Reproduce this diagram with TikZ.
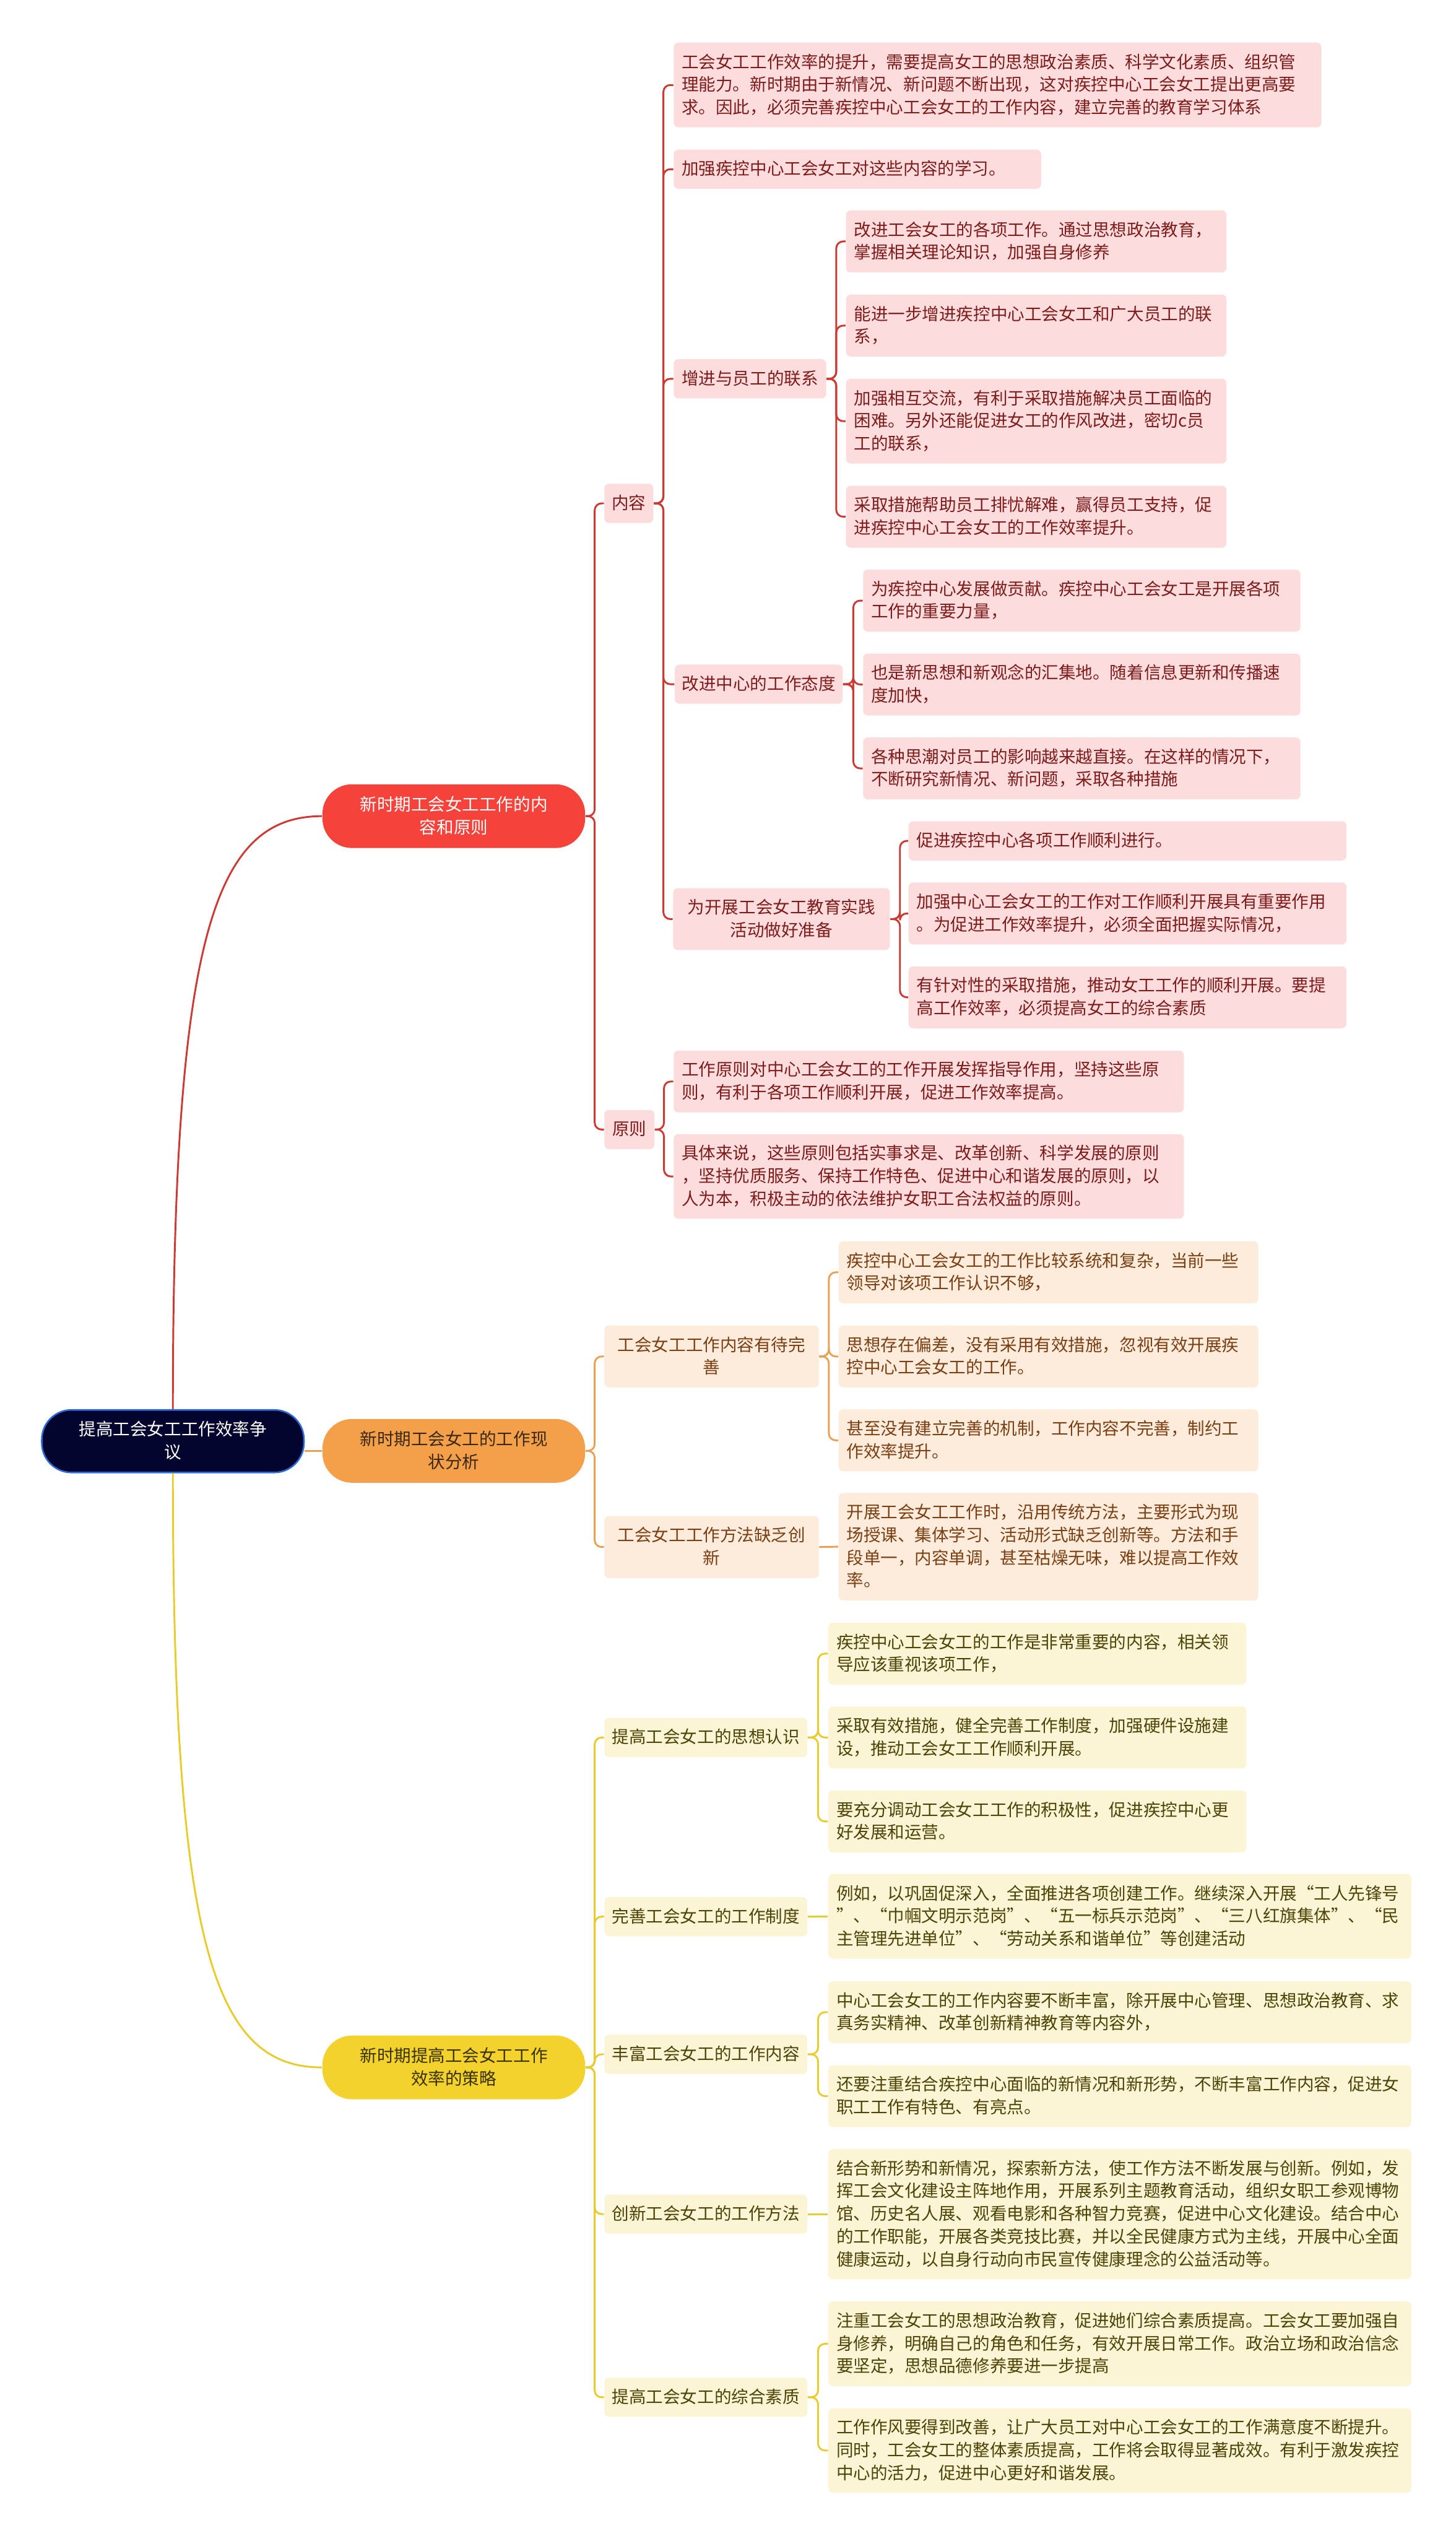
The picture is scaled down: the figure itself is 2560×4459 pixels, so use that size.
\documentclass[tikz,border=0pt]{standalone}
\usepackage{fontspec}
\setmainfont{Noto Sans CJK SC}
\newcommand\mystrut{\rule[-2.4pt]{0pt}{10pt}}
\definecolor{pinkF}{HTML}{FCDCDC}
\definecolor{beigeF}{HTML}{FDEBDB}
\definecolor{creamF}{HTML}{FCF5D5}
\definecolor{redT}{HTML}{7E1B1B}
\definecolor{orT}{HTML}{7A3F12}
\definecolor{yeT}{HTML}{4D4306}
\definecolor{redL}{HTML}{CC3A33}
\definecolor{orL}{HTML}{E9A253}
\definecolor{yeL}{HTML}{E8CB2C}
\definecolor{redF}{HTML}{F5423A}
\definecolor{orF}{HTML}{F4A04B}
\definecolor{yeF}{HTML}{F3D22D}
\definecolor{rootF}{HTML}{04052E}
\definecolor{rootB}{HTML}{2E6BD6}
\definecolor{orDark}{HTML}{3A2814}
\definecolor{yeDark}{HTML}{3A3200}
\tikzset{
  base/.style={font=\fontsize{7.5pt}{10pt}\selectfont, execute at begin node=\mystrut, execute at end node=\mystrut},
  leaf/.style={base, rounded corners=2pt, inner xsep=3.5pt, inner ysep=3.6pt, align=left, anchor=west},
  mid/.style={base, rounded corners=2pt, inner xsep=3pt, inner ysep=3.6pt, align=center, anchor=west},
  pleaf/.style={leaf, fill=pinkF, text=redT},
  oleaf/.style={leaf, fill=beigeF, text=orT},
  yleaf/.style={leaf, fill=creamF, text=yeT},
  pmid/.style={mid, fill=pinkF, text=redT},
  omid/.style={mid, fill=beigeF, text=orT},
  ymid/.style={mid, fill=creamF, text=yeT},
  lone/.style={base, rounded corners=13pt, minimum width=115.5pt, text width=84pt, align=center, inner xsep=0pt, inner ysep=4pt},
  rootn/.style={base, rounded corners=13pt, minimum width=115.25pt, text width=84pt, align=center, inner xsep=0pt, inner ysep=3.75pt, fill=rootF, draw=rootB, line width=0.7pt, text=white},
  rc/.style={draw=redL, line width=0.8pt, rounded corners=3pt},
  oc/.style={draw=orL, line width=0.8pt, rounded corners=3pt},
  yc/.style={draw=yeL, line width=0.8pt, rounded corners=3pt},
}
\begin{document}
\begin{tikzpicture}[x=0.25pt,y=-0.25pt]
\fill[white] (0,0) rectangle (2560,4459);
\useasboundingbox (0,0) rectangle (2560,4459);

% root and level 1
\node[rootn] (root) at (304,2534) {提高工会女工工作效率争\\议};
\node[lone, fill=redF, text=white] (red) at (798,1435) {新时期工会女工工作的内\\容和原则};
\node[lone, fill=orF, text=orDark] (orange) at (798,2551) {新时期工会女工的工作现\\状分析};
\node[lone, fill=yeF, text=yeDark] (yellow) at (798,3635) {新时期提高工会女工工作\\效率的策略};

% ---------- red branch ----------
\node[pmid, text width=15.5pt] (nr) at (1062,885) {内容};
\node[pmid, text width=16pt] (yz) at (1062,1986) {原则};

\node[pleaf, text width=277.75pt] (a1) at (1184,149.5) {工会女工工作效率的提升，需要提高女工的思想政治素质、科学文化素质、组织管\\理能力。新时期由于新情况、新问题不断出现，这对疾控中心工会女工提出更高要\\求。因此，必须完善疾控中心工会女工的工作内容，建立完善的教育学习体系};
\node[pleaf, text width=154.5pt] (a2) at (1184,297.5) {加强疾控中心工会女工对这些内容的学习。};

\node[pmid, text width=61pt] (zj) at (1184,666) {增进与员工的联系};
\node[pleaf, text width=160.25pt] (b1) at (1487,424.5) {改进工会女工的各项工作。通过思想政治教育，\\掌握相关理论知识，加强自身修养};
\node[pleaf, text width=160.25pt] (b2) at (1487,572.5) {能进一步增进疾控中心工会女工和广大员工的联\\系，};
\node[pleaf, text width=160.25pt] (b3) at (1487,740.5) {加强相互交流，有利于采取措施解决员工面临的\\困难。另外还能促进女工的作风改进，密切c员\\工的联系，};
\node[pleaf, text width=160.25pt] (b4) at (1487,908.5) {采取措施帮助员工排忧解难，赢得员工支持，促\\进疾控中心工会女工的工作效率提升。};

\node[pmid, text width=67.75pt] (td) at (1186,1203) {改进中心的工作态度};
\node[pleaf, text width=185.25pt] (c1) at (1517,1056) {为疾控中心发展做贡献。疾控中心工会女工是开展各项\\工作的重要力量，};
\node[pleaf, text width=185.25pt] (c2) at (1517,1203.5) {也是新思想和新观念的汇集地。随着信息更新和传播速\\度加快，};
\node[pleaf, text width=185.25pt] (c3) at (1517,1351) {各种思潮对员工的影响越来越直接。在这样的情况下，\\不断研究新情况、新问题，采取各种措施};

\node[pmid, text width=89.25pt] (zb) at (1183,1616) {为开展工会女工教育实践\\活动做好准备};
\node[pleaf, text width=185.5pt] (d1) at (1597,1478.5) {促进疾控中心各项工作顺利进行。};
\node[pleaf, text width=185.5pt] (d2) at (1597,1606) {加强中心工会女工的工作对工作顺利开展具有重要作用\\。为促进工作效率提升，必须全面把握实际情况，};
\node[pleaf, text width=185.5pt] (d3) at (1597,1753.5) {有针对性的采取措施，推动女工工作的顺利开展。要提\\高工作效率，必须提高女工的综合素质};

\node[pleaf, text width=217.25pt] (e1) at (1184,1901.5) {工作原则对中心工会女工的工作开展发挥指导作用，坚持这些原\\则，有利于各项工作顺利开展，促进工作效率提高。};
\node[pleaf, text width=217.25pt] (e2) at (1184,2068.5) {具体来说，这些原则包括实事求是、改革创新、科学发展的原则\\，坚持优质服务、保持工作特色、促进中心和谐发展的原则，以\\人为本，积极主动的依法维护女职工合法权益的原则。};

% ---------- orange branch ----------
\node[omid, text width=88.25pt] (ws) at (1062,2385) {工会女工工作内容有待完\\善};
\node[oleaf, text width=177.5pt] (f1) at (1474,2237) {疾控中心工会女工的工作比较系统和复杂，当前一些\\领导对该项工作认识不够，};
\node[oleaf, text width=177.5pt] (f2) at (1474,2385) {思想存在偏差，没有采用有效措施，忽视有效开展疾\\控中心工会女工的工作。};
\node[oleaf, text width=177.5pt] (f3) at (1474,2532.5) {甚至没有建立完善的机制，工作内容不完善，制约工\\作效率提升。};
\node[omid, text width=88.25pt] (cx) at (1062,2720) {工会女工工作方法缺乏创\\新};
\node[oleaf, text width=177.5pt] (g1) at (1474,2719.5) {开展工会女工工作时，沿用传统方法，主要形式为现\\场授课、集体学习、活动形式缺乏创新等。方法和手\\段单一，内容单调，甚至枯燥无味，难以提高工作效\\率。};

% ---------- yellow branch ----------
\node[ymid, text width=83.25pt] (rs) at (1062,3055) {提高工会女工的思想认识};
\node[yleaf, text width=176.75pt] (h1) at (1456,2907.5) {疾控中心工会女工的工作是非常重要的内容，相关领\\导应该重视该项工作，};
\node[yleaf, text width=176.75pt] (h2) at (1456,3055) {采取有效措施，健全完善工作制度，加强硬件设施建\\设，推动工会女工工作顺利开展。};
\node[yleaf, text width=176.75pt] (h3) at (1456,3202.5) {要充分调动工会女工工作的积极性，促进疾控中心更\\好发展和运营。};

\node[ymid, text width=83.25pt] (zd) at (1062,3370) {完善工会女工的工作制度};
\node[yleaf, text width=249.25pt] (i1) at (1456,3369.5) {例如，以巩固促深入，全面推进各项创建工作。继续深入开展“工人先锋号\\”、“巾帼文明示范岗”、“五一标兵示范岗”、“三八红旗集体”、“民\\主管理先进单位”、“劳动关系和谐单位”等创建活动};

\node[ymid, text width=83.25pt] (ff) at (1062,3612) {丰富工会女工的工作内容};
\node[yleaf, text width=249.25pt] (j1) at (1456,3538) {中心工会女工的工作内容要不断丰富，除开展中心管理、思想政治教育、求\\真务实精神、改革创新精神教育等内容外，};
\node[yleaf, text width=249.25pt] (j2) at (1456,3685.5) {还要注重结合疾控中心面临的新情况和新形势，不断丰富工作内容，促进女\\职工工作有特色、有亮点。};

\node[ymid, text width=83.25pt] (ff2) at (1062,3893) {创新工会女工的工作方法};
\node[yleaf, text width=249.25pt] (k1) at (1456,3893) {结合新形势和新情况，探索新方法，使工作方法不断发展与创新。例如，发\\挥工会文化建设主阵地作用，开展系列主题教育活动，组织女职工参观博物\\馆、历史名人展、观看电影和各种智力竞赛，促进中心文化建设。结合中心\\的工作职能，开展各类竞技比赛，并以全民健康方式为主线，开展中心全面\\健康运动，以自身行动向市民宣传健康理念的公益活动等。};

\node[ymid, text width=83.25pt] (zh) at (1062,4215) {提高工会女工的综合素质};
\node[yleaf, text width=249.25pt] (l1) at (1456,4121) {注重工会女工的思想政治教育，促进她们综合素质提高。工会女工要加强自\\身修养，明确自己的角色和任务，有效开展日常工作。政治立场和政治信念\\要坚定，思想品德修养要进一步提高};
\node[yleaf, text width=249.25pt] (l2) at (1456,4308.5) {工作作风要得到改善，让广大员工对中心工会女工的工作满意度不断提升。\\同时，工会女工的整体素质提高，工作将会取得显著成效。有利于激发疾控\\中心的活力，促进中心更好和谐发展。};

% ---------- connectors ----------
\draw[rc] (root.north) .. controls +(0,-830) and +(-190,0) .. (red.west);
\draw[oc] (root.east |- orange.west) -- (orange.west);
\draw[yc] (root.south) .. controls +(0,830) and +(-190,0) .. (yellow.west);

\foreach \c in {nr,yz} \draw[rc] (red.east) -- ++(16,0) |- (\c.west);
\foreach \c in {a1,a2,zj,td,zb} \draw[rc] (nr.east) -- ++(17,0) |- (\c.west);
\foreach \c in {b1,b2,b3,b4} \draw[rc] (zj.east) -- ++(17,0) |- (\c.west);
\foreach \c in {c1,c2,c3} \draw[rc] (td.east) -- ++(18,0) |- (\c.west);
\foreach \c in {d1,d2,d3} \draw[rc] (zb.east) -- ++(17,0) |- (\c.west);
\foreach \c in {e1,e2} \draw[rc] (yz.east) -- ++(16,0) |- (\c.west);

\foreach \c in {ws,cx} \draw[oc] (orange.east) -- ++(16,0) |- (\c.west);
\foreach \c in {f1,f2,f3} \draw[oc] (ws.east) -- ++(17,0) |- (\c.west);
\draw[oc] (cx.east) -- (g1.west);

\foreach \c in {rs,zd,ff,ff2,zh} \draw[yc] (yellow.east) -- ++(16,0) |- (\c.west);
\foreach \c in {h1,h2,h3} \draw[yc] (rs.east) -- ++(18,0) |- (\c.west);
\draw[yc] (zd.east) -- (i1.west);
\foreach \c in {j1,j2} \draw[yc] (ff.east) -- ++(18,0) |- (\c.west);
\draw[yc] (ff2.east) -- (k1.west);
\foreach \c in {l1,l2} \draw[yc] (zh.east) -- ++(18,0) |- (\c.west);
\end{tikzpicture}
\end{document}
